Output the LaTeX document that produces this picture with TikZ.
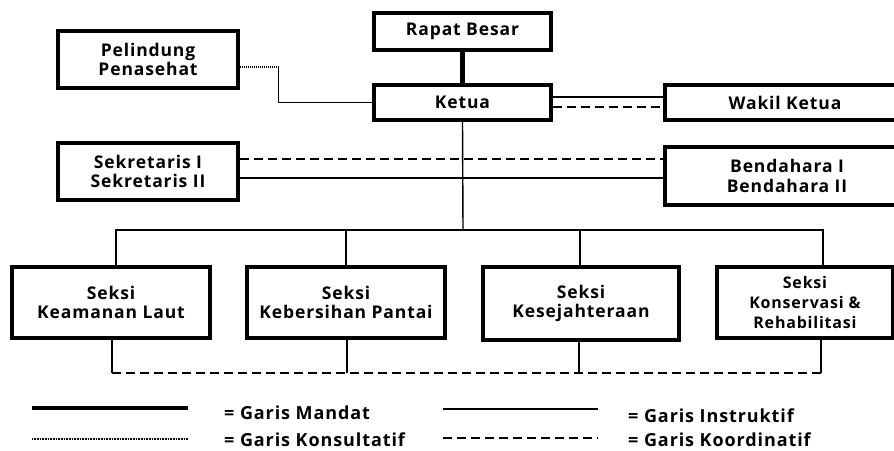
\documentclass[tikz,border=0pt]{standalone}
\usepackage{fontspec}
\setmainfont{Open Sans}[LetterSpace=5]
\begin{document}
\begin{tikzpicture}[x=1pt,y=-1pt,
  box/.style={draw,line width=3.2pt,rectangle,align=center,inner sep=0pt,
    font=\fontsize{17.5}{19.5}\selectfont\bfseries},
  mandat/.style={line width=4.5pt},
  instr/.style={line width=1.4pt},
  konsul/.style={line width=1.4pt,dash pattern=on 1.5pt off 0.5pt},
  koord/.style={line width=2pt,dash pattern=on 9pt off 5pt},
  leg/.style={anchor=base west,inner sep=0pt,font=\fontsize{18}{21}\selectfont\bfseries}]
\useasboundingbox (0,0) rectangle (894,450);
% nodes
\node[box,minimum width=177pt,minimum height=37pt] (rap) at (462.5,31.5) {Rapat Besar};
\node[box,minimum width=177pt,minimum height=35pt] (ket) at (462.5,102.5) {Ketua};
\node[box,minimum width=180pt,minimum height=57pt] (pel) at (148,59.5) {Pelindung\\Penasehat};
\node[box,minimum width=236pt,minimum height=35pt] (wak) at (783,102.5) {\hspace*{4pt}Wakil Ketua};
\node[box,minimum width=180pt,minimum height=57pt] (sek) at (148,171.5) {Sekretaris I\\Sekretaris II};
\node[box,minimum width=236pt,minimum height=58pt] (ben) at (783,176) {\hspace*{8pt}Bendahara I\\\hspace*{8pt}Bendahara II};
\node[box,minimum width=198pt,minimum height=71pt] (s1) at (111,302.5) {Seksi\\Keamanan Laut};
\node[box,minimum width=198pt,minimum height=71pt] (s2) at (346,302.5) {Seksi\\Kebersihan Pantai};
\node[box,minimum width=196pt,minimum height=73pt] (s3) at (581,303.5) {Seksi\\Kesejahteraan};
\node[box,minimum width=176pt,minimum height=71pt,font=\fontsize{16}{20}\selectfont\bfseries] (s4) at (805,302.5) {Seksi\\Konservasi \&\\Rehabilitasi};
% coordinates
\coordinate (bus) at (463,230);
\coordinate (kb) at (0,373);
\coordinate (yd) at (0,158.5);
\coordinate (ys) at (0,178);
% connectors
\draw[mandat] (rap.south) -- (ket.north);
\draw[konsul] ([yshift=-7.5pt]pel.east) -- ++(39,0) |- (ket.west);
\draw[instr] ([yshift=5.5pt]ket.east) -- ([yshift=5.5pt]wak.west);
\draw[koord] ([yshift=-4.5pt]ket.east) -- ([yshift=-4.5pt]wak.west);
\draw[koord] (sek.east |- yd) -- (ben.west |- yd);
\draw[instr] (sek.east |- ys) -- (ben.west |- ys);
\draw[instr] (ket.south) -- (bus);
\draw[instr] ([xshift=5pt]s1.north) |- ([xshift=18pt]s4.north |- bus) -- ([xshift=18pt]s4.north);
\draw[instr] (s2.north) -- (s2.north |- bus);
\draw[instr] ([xshift=-1pt]s3.north) -- ([xshift=-1pt]s3.north |- bus);
\draw[instr] ([xshift=1pt]s1.south) -- ([xshift=1pt]s1.south |- kb);
\draw[instr] ([xshift=1pt]s2.south) -- ([xshift=1pt]s2.south |- kb);
\draw[instr] ([xshift=-2pt]s3.south) -- ([xshift=-2pt]s3.south |- kb);
\draw[instr] ([xshift=16pt]s4.south) -- ([xshift=16pt]s4.south |- kb);
\draw[koord] ([xshift=1pt]s1.south |- kb) -- ([xshift=16pt]s4.south |- kb);
% legend
\coordinate (l1a) at (32,408); \coordinate (l1b) at (188,408);
\coordinate (l2a) at (32,439); \coordinate (l2b) at (188,439);
\coordinate (l3a) at (443,409); \coordinate (l3b) at (598,409);
\coordinate (l4a) at (443,438); \coordinate (l4b) at (598,438);
\draw[mandat] (l1a) -- (l1b);
\draw[line width=1.3pt,dash pattern=on 1pt off 0.6pt] (l2a) -- (l2b);
\draw[instr] (l3a) -- (l3b);
\draw[koord] (l4a) -- (l4b);
\node[leg] (t1) at (224,419.5) {= Garis Mandat};
\node[leg] (t2) at (224,446) {= Garis Konsultatif};
\node[leg] (t3) at (628,422) {= Garis Instruktif};
\node[leg] (t4) at (628,446) {= Garis Koordinatif};
\end{tikzpicture}
\end{document}
